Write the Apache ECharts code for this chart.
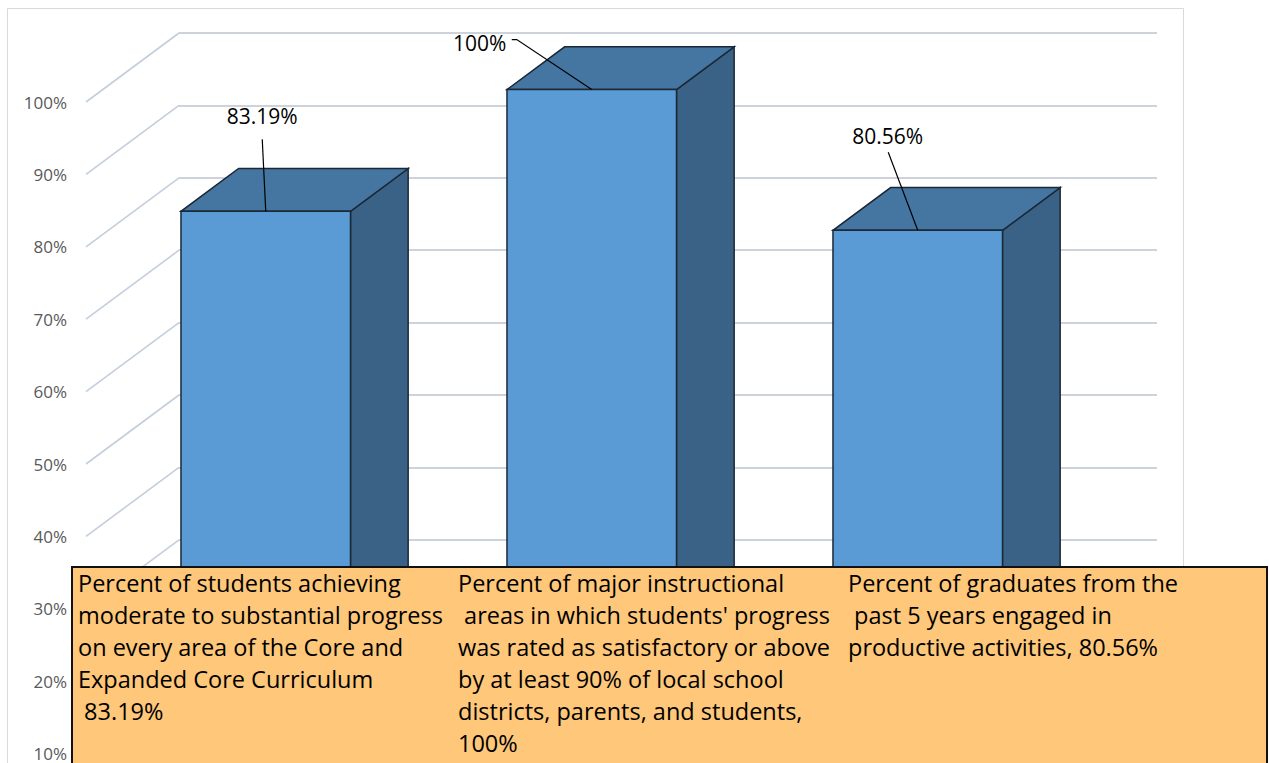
<!DOCTYPE html>
<html>
<head>
<meta charset="utf-8">
<style>
html,body{margin:0;padding:0;background:#ffffff;}
#chart{width:1269px;height:763px;}
</style>
<script src="https://cdn.jsdelivr.net/npm/echarts@6/dist/echarts.min.js"></script>
</head>
<body>
<div id="chart"></div>
<script>
// ---------------- data ----------------
const categories = [
  "Percent of students achieving\nmoderate to substantial progress\non every area of the Core and\nExpanded Core Curriculum\n 83.19%",
  "Percent of major instructional\n areas in which students' progress\nwas rated as satisfactory or above\nby at least 90% of local school\ndistricts, parents, and students,\n100%",
  "Percent of graduates from the\n past 5 years engaged in\nproductive activities, 80.56%"
];
const values = [83.19, 100, 80.56];
const valueLabels = ["83.19%", "100%", "80.56%"];
const yTicks = [0, 10, 20, 30, 40, 50, 60, 70, 80, 90, 100];

// ---------------- layout / style ----------------
const DX = 93, DY = -69;          // depth of the 3D floor
const F1 = 0.18, F2 = 0.80;       // bar depth (front / back fraction)
const BAR_FRAC = 0.52;
const FRONT = {left: 86, right: 205, top: 102, height: 724};
const BACK = {left: FRONT.left + DX, right: FRONT.right - DX, top: FRONT.top + DY, height: FRONT.height};
const labelLayout = [
  {tx: -3.5, ty: -95, line: [[-3.5, -72], [0, 0]]},
  {tx: -112, ty: -47, line: [[-80, -50], [-75, -50], [0, 0]]},
  {tx: -30, ty: -94, line: [[-29.5, -78], [0, 0]]}
];
const textColX = [78, 458, 848];

const chart = echarts.init(document.getElementById('chart'), null, {renderer: 'svg'});

function renderWall(params, api) {
  const v = api.value(1);
  const y = api.coord([0, v])[1];
  const x = params.coordSys.x;
  return {
    type: 'line',
    shape: {x1: x, y1: y, x2: x + DX, y2: y + DY},
    style: {stroke: '#c5cedb', lineWidth: 1.6}
  };
}

function renderBar(params, api) {
  const i = api.value(0), v = api.value(1);
  const top = api.coord([i, v]);
  const base = api.coord([i, 0]);
  const w = api.size([1, 0])[0] * BAR_FRAC;
  const ox = F1 * DX, oy = F1 * DY;
  const dx = (F2 - F1) * DX, dy = (F2 - F1) * DY;
  const x0 = top[0] - w / 2 + ox, x1 = top[0] + w / 2 + ox;
  const yt = top[1] + oy, yb = base[1] + oy;
  const edge = '#1b2836';
  const cx = top[0] + ox, cy = yt;
  const L = labelLayout[i];
  return {
    type: 'group',
    children: [
      {type: 'polygon', shape: {points: [[x1, yt], [x1 + dx, yt + dy], [x1 + dx, yb + dy], [x1, yb]]},
        style: {fill: '#3a6287', stroke: edge, lineWidth: 1.5}},
      {type: 'polygon', shape: {points: [[x0, yt], [x1, yt], [x1 + dx, yt + dy], [x0 + dx, yt + dy]]},
        style: {fill: '#4576a2', stroke: edge, lineWidth: 1.5}},
      {type: 'rect', shape: {x: x0, y: yt, width: x1 - x0, height: yb - yt},
        style: {fill: '#5b9bd5', stroke: edge, lineWidth: 1.5}},
      {type: 'polyline', shape: {points: L.line.map(p => [cx + p[0], cy + p[1]])},
        style: {fill: null, stroke: '#000000', lineWidth: 1.2}},
      {type: 'text', style: {text: valueLabels[i], x: cx + L.tx, y: cy + L.ty,
        align: 'center', verticalAlign: 'middle',
        font: '21px "Open Sans", sans-serif', fill: '#000000'}}
    ]
  };
}

const graphics = [
  {type: 'rect', z: -10, silent: true, shape: {x: 7.5, y: 8.5, width: 1176, height: 800},
    style: {fill: 'none', stroke: '#d9d9d9', lineWidth: 1}},
  {type: 'rect', z: 100, shape: {x: 72, y: 567, width: 1195, height: 260},
    style: {fill: '#fec779', stroke: '#111111', lineWidth: 2}}
];
categories.forEach((c, i) => {
  graphics.push({type: 'text', z: 101, style: {text: c, x: textColX[i], y: 567,
    align: 'left', verticalAlign: 'top', lineHeight: 32,
    font: '23.5px "Open Sans", sans-serif', fill: '#000000'}});
});

chart.setOption({
  animation: false,
  backgroundColor: '#ffffff',
  grid: [
    {left: FRONT.left, right: FRONT.right, top: FRONT.top, height: FRONT.height,
      containLabel: false, outerBoundsMode: 'none'},
    {left: BACK.left, right: BACK.right, top: BACK.top, height: BACK.height,
      containLabel: false, outerBoundsMode: 'none'}
  ],
  xAxis: [
    {type: 'category', gridIndex: 0, data: categories, show: false},
    {type: 'value', gridIndex: 1, show: false, min: 0, max: 1}
  ],
  yAxis: [
    {type: 'value', gridIndex: 0, min: 0, max: 100, interval: 10,
      axisLine: {show: false}, axisTick: {show: false}, splitLine: {show: false},
      axisLabel: {formatter: '{value}%', color: '#595959', fontSize: 17,
        fontFamily: '"Open Sans", sans-serif', margin: 19}},
    {type: 'value', gridIndex: 1, min: 0, max: 100, interval: 10,
      axisLine: {show: false}, axisTick: {show: false}, axisLabel: {show: false},
      splitLine: {show: true, lineStyle: {color: '#cdd2db', width: 2}}}
  ],
  series: [
    {type: 'custom', xAxisIndex: 0, yAxisIndex: 0, renderItem: renderWall,
      data: yTicks.map(t => [0, t]), encode: {x: 0, y: 1}, z: 1, silent: true},
    {type: 'custom', xAxisIndex: 0, yAxisIndex: 0, renderItem: renderBar,
      data: values.map((v, i) => [i, v]), encode: {x: 0, y: 1}, z: 5}
  ],
  graphic: graphics
});
</script>
</body>
</html>
